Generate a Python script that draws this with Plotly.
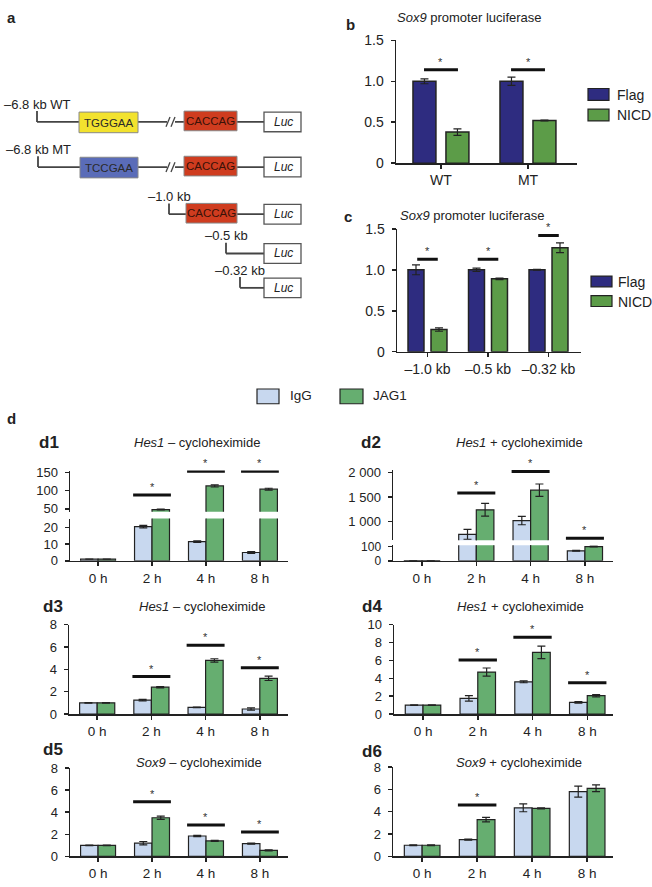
import plotly.graph_objects as go

# ---------------- data ----------------
b_categories = ["WT", "MT"]
b_flag = [1.0, 1.0]
b_flag_err = [0.03, 0.05]
b_nicd = [0.38, 0.52]
b_nicd_err = [0.04, 0.005]
b_sig = [1.14, 1.14]

c_categories = ["–1.0 kb", "–0.5 kb", "–0.32 kb"]
c_flag = [1.0, 1.0, 1.0]
c_flag_err = [0.06, 0.02, 0.005]
c_nicd = [0.27, 0.89, 1.27]
c_nicd_err = [0.02, 0.01, 0.06]
c_sig = [1.13, 1.13, 1.42]

d_times = ["0 h", "2 h", "4 h", "8 h"]

d1_igg = [1.0, 20.5, 11.5, 5.0]
d1_igg_err = [0.05, 0.8, 0.5, 0.6]
d1_jag = [1.0, 48.0, 113.0, 104.0]
d1_jag_err = [0.05, 1.0, 3.0, 2.5]
d1_sig = [None, 88, 153, 153]

d2_igg = [1.0, 740, 1020, 70]
d2_igg_err = [0, 100, 85, 3]
d2_jag = [1.0, 1240, 1640, 100]
d2_jag_err = [0, 130, 125, 3]
d2_sig = [None, 1580, 2020, 660]

d3_igg = [1.0, 1.25, 0.6, 0.45]
d3_igg_err = [0.03, 0.07, 0.03, 0.1]
d3_jag = [1.0, 2.4, 4.8, 3.2]
d3_jag_err = [0.03, 0.05, 0.15, 0.2]
d3_sig = [None, 3.35, 6.15, 4.15]

d4_igg = [1.0, 1.75, 3.6, 1.3]
d4_igg_err = [0.03, 0.3, 0.1, 0.08]
d4_jag = [1.0, 4.7, 6.9, 2.05]
d4_jag_err = [0.03, 0.45, 0.7, 0.12]
d4_sig = [None, 6.05, 8.6, 3.5]

d5_igg = [1.0, 1.2, 1.85, 1.15]
d5_igg_err = [0.03, 0.15, 0.05, 0.05]
d5_jag = [1.0, 3.5, 1.4, 0.55]
d5_jag_err = [0.03, 0.15, 0.05, 0.05]
d5_sig = [None, 4.95, 2.85, 2.2]

d6_igg = [1.0, 1.5, 4.35, 5.8]
d6_igg_err = [0.03, 0.05, 0.35, 0.5]
d6_jag = [1.0, 3.3, 4.3, 6.1]
d6_jag_err = [0.03, 0.2, 0.05, 0.3]
d6_sig = [None, 4.6, None, None]

# schematic (panel a)
a_labels = ["–6.8 kb WT", "–6.8 kb MT", "–1.0 kb", "–0.5 kb", "–0.32 kb"]
a_motifs = ["TGGGAA", "TCCGAA", "", "", ""]
a_has_caccag = [True, True, True, False, False]

# ---------------- style ----------------
W, H = 652, 887
FONT = "Liberation Sans, Arial, sans-serif"
AX = "#222222"
FLAG = "#2E2C80"
NICD = "#5C9C48"
IGG = "#C8D8EF"
JAG = "#66AE70"
TXT = "#222222"


def fx(px):
    return px / W


def fy(py):
    return 1 - py / H


fig = go.Figure()
annotations = []
shapes = []


def xaxis(x0, x1, rng, anchor, labels, fs):
    return dict(domain=[fx(x0), fx(x1)], range=rng, anchor=anchor,
                showline=True, linecolor=AX, linewidth=1.5,
                ticks="outside", ticklen=4, tickwidth=1.5, tickcolor=AX,
                tickvals=list(range(len(labels))), ticktext=labels,
                tickfont=dict(size=fs, color=TXT, family=FONT),
                showgrid=False, zeroline=False, fixedrange=True)


def yaxis(top, bottom, rng, anchor, vals, texts, fs):
    return dict(domain=[fy(bottom), fy(top)], range=rng, anchor=anchor,
                showline=True, linecolor=AX, linewidth=1.5,
                ticks="outside", ticklen=4, tickwidth=1.5, tickcolor=AX,
                tickvals=vals, ticktext=texts, ticklabelstandoff=4,
                tickfont=dict(size=fs, color=TXT, family=FONT),
                showgrid=False, zeroline=False, fixedrange=True)


def bars(vals, errs, color, offset, width, xa, ya, lw=1.2):
    fig.add_trace(go.Bar(
        x=list(range(len(vals))), y=vals, offset=offset, width=width,
        marker=dict(color=color, line=dict(color=AX, width=lw)),
        error_y=dict(type="data", array=errs, visible=True, color=AX,
                     thickness=1.2, width=4),
        xaxis=xa, yaxis=ya, showlegend=False, hoverinfo="skip"))


def sig(levels, hw, xa, ya, fs=11):
    xs, ys = [], []
    for i, s in enumerate(levels):
        if s is None:
            continue
        xs += [i - hw, i + hw, None]
        ys += [s, s, None]
        annotations.append(dict(x=i, y=s, xref=xa, yref=ya, text="*",
                                showarrow=False, xanchor="center",
                                yanchor="bottom", yshift=0,
                                font=dict(size=fs, color="#333", family=FONT)))
    fig.add_trace(go.Scatter(x=xs, y=ys, mode="lines",
                             line=dict(color="#111", width=3),
                             xaxis=xa, yaxis=ya, showlegend=False,
                             hoverinfo="skip", cliponaxis=False))


def text(x, y, s, size=13, anchor="center", bold=False, color=TXT):
    if bold:
        s = "<b>" + s + "</b>"
    annotations.append(dict(x=fx(x), y=fy(y), xref="paper", yref="paper",
                            text=s, showarrow=False, xanchor=anchor,
                            yanchor="middle",
                            font=dict(size=size, color=color, family=FONT)))


def legend_box(x0, y0, x1, y1, color):
    shapes.append(dict(type="rect", xref="paper", yref="paper",
                       x0=fx(x0), x1=fx(x1), y0=fy(y1), y1=fy(y0),
                       fillcolor=color, line=dict(color=AX, width=1.2)))


layout = {}

# ---------------- panel b ----------------
layout["xaxis"] = xaxis(396, 577, [-0.517, 1.563], "y", b_categories, 14)
layout["yaxis"] = yaxis(33, 158, [0, 1.5], "x", [0, 0.5, 1.0, 1.5],
                        ["0", "0.5", "1.0", "1.5"], 14)
bars(b_flag, b_flag_err, FLAG, -0.322, 0.264, "x", "y", 1.5)
bars(b_nicd, b_nicd_err, NICD, 0.057, 0.264, "x", "y", 1.5)
sig(b_sig, 0.195, "x", "y")
text(350, 17, "b", 15, bold=True)
text(470, 10, "<i>Sox9</i> promoter luciferase", 13)
legend_box(588, 82, 609, 94, FLAG)
legend_box(588, 103, 609, 115, NICD)
text(615, 89, "Flag", 14, "left")
text(615, 109, "NICD", 14, "left")

# ---------------- panel c ----------------
layout["xaxis2"] = xaxis(397, 581, [-0.504, 2.537], "y2", c_categories, 14)
layout["yaxis2"] = yaxis(225, 350, [0, 1.5], "x2", [0, 0.5, 1.0, 1.5],
                         ["0", "0.5", "1.0", "1.5"], 14)
bars(c_flag, c_flag_err, FLAG, -0.322, 0.264, "x2", "y2", 1.5)
bars(c_nicd, c_nicd_err, NICD, 0.058, 0.264, "x2", "y2", 1.5)
sig(c_sig, 0.17, "x2", "y2")
text(348, 212, "c", 15, bold=True)
text(472, 211, "<i>Sox9</i> promoter luciferase", 13)
legend_box(591, 273, 612, 284, FLAG)
legend_box(591, 293, 612, 304, NICD)
text(616, 279, "Flag", 14, "left")
text(616, 299, "NICD", 14, "left")

# ---------------- legend d ----------------
legend_box(257, 388, 279, 403, IGG)
legend_box(340, 388, 363, 403, JAG)
text(288, 395, "IgG", 13.5, "left")
text(371, 395, "JAG1", 13.5, "left")
text(11, 418, "d", 15, bold=True)

HW = 0.35
BW = 0.324

# ---------------- d1 (broken axis) ----------------
layout["xaxis3"] = xaxis(70, 288, [-0.52, 3.52], "y3", d_times, 13.5)
layout["yaxis3"] = yaxis(520, 563, [0, 25.3], "x3", [0, 10, 20],
                         ["0", "10", "20"], 13)
layout["yaxis4"] = yaxis(471, 513, [41.9, 155.4], "x3", [50, 100, 150],
                         ["50", "100", "150"], 13)
for ya in ["y3", "y4"]:
    bars(d1_igg, d1_igg_err, IGG, -BW, BW, "x3", ya)
    bars(d1_jag, d1_jag_err, JAG, 0, BW, "x3", ya)
sig(d1_sig, HW, "x3", "y4")
text(37, 442, "d1", 17, "left", bold=True)
text(197, 442, "<i>Hes1</i> – cycloheximide", 13)

# ---------------- d2 (broken axis) ----------------
layout["xaxis5"] = xaxis(393, 613, [-0.534, 3.517], "y5", d_times, 13.5)
layout["yaxis5"] = yaxis(547, 563, [0, 110], "x5", [0, 100],
                         ["0", "100"], 12)
layout["yaxis6"] = yaxis(470, 542, [620, 2060], "x5", [1000, 1500, 2000],
                         ["1 000", "1 500", "2 000"], 13)
for ya in ["y5", "y6"]:
    bars(d2_igg, d2_igg_err, IGG, -BW, BW, "x5", ya)
    bars(d2_jag, d2_jag_err, JAG, 0, BW, "x5", ya)
sig(d2_sig, HW, "x5", "y6")
text(359, 442, "d2", 17, "left", bold=True)
text(519, 442, "<i>Hes1</i> + cycloheximide", 13)

# ---------------- d3 ----------------
eight = [0, 2, 4, 6, 8]
layout["xaxis7"] = xaxis(69, 288, [-0.52, 3.52], "y7", d_times, 13.5)
layout["yaxis7"] = yaxis(628, 719, [0, 8], "x7", eight,
                         [str(v) for v in eight], 13)
bars(d3_igg, d3_igg_err, IGG, -BW, BW, "x7", "y7")
bars(d3_jag, d3_jag_err, JAG, 0, BW, "x7", "y7")
sig(d3_sig, HW, "x7", "y7")
text(41, 610, "d3", 17, "left", bold=True)
text(202, 610, "<i>Hes1</i> – cycloheximide", 13)

# ---------------- d4 ----------------
ten = [0, 2, 4, 6, 8, 10]
layout["xaxis8"] = xaxis(394, 613, [-0.53, 3.47], "y8", d_times, 13.5)
layout["yaxis8"] = yaxis(628, 719, [0, 10], "x8", ten,
                         [str(v) for v in ten], 13)
bars(d4_igg, d4_igg_err, IGG, -BW, BW, "x8", "y8")
bars(d4_jag, d4_jag_err, JAG, 0, BW, "x8", "y8")
sig(d4_sig, HW, "x8", "y8")
text(360, 610, "d4", 17, "left", bold=True)
text(520, 610, "<i>Hes1</i> + cycloheximide", 13)

# ---------------- d5 ----------------
layout["xaxis9"] = xaxis(70, 288, [-0.52, 3.52], "y9", d_times, 13.5)
layout["yaxis9"] = yaxis(774, 864, [0, 8], "x9", eight,
                         [str(v) for v in eight], 13)
bars(d5_igg, d5_igg_err, IGG, -BW, BW, "x9", "y9")
bars(d5_jag, d5_jag_err, JAG, 0, BW, "x9", "y9")
sig(d5_sig, HW, "x9", "y9")
text(41, 755, "d5", 17, "left", bold=True)
text(199, 768, "<i>Sox9</i> – cycloheximide", 13)

# ---------------- d6 ----------------
layout["xaxis10"] = xaxis(393, 613, [-0.53, 3.47], "y10", d_times, 13.5)
layout["yaxis10"] = yaxis(773, 864, [0, 8], "x10", eight,
                          [str(v) for v in eight], 13)
bars(d6_igg, d6_igg_err, IGG, -BW, BW, "x10", "y10")
bars(d6_jag, d6_jag_err, JAG, 0, BW, "x10", "y10")
sig(d6_sig, HW, "x10", "y10")
text(360, 757, "d6", 17, "left", bold=True)
text(519, 768, "<i>Sox9</i> + cycloheximide", 13)

# ---------------- panel a (schematic) ----------------
layout["xaxis11"] = dict(domain=[0, fx(330)], range=[0, 330], visible=False,
                         anchor="y11", fixedrange=True)
layout["yaxis11"] = dict(domain=[fy(330), 1], range=[330, 0], visible=False,
                         anchor="x11", fixedrange=True)
fig.add_trace(go.Scatter(x=[0], y=[0], mode="markers", marker=dict(opacity=0),
                         xaxis="x11", yaxis="y11", showlegend=False,
                         hoverinfo="skip"))
text(11, 10, "a", 15, bold=True)

row_y = [116, 162, 210, 250, 285]
start_x = [37, 38, 169, 226, 240]
motif_colors = ["#F2E22E", "#5A6CB8"]
LUC_X0, LUC_X1 = 264, 301
LINE = "#444444"


def ashape(**kw):
    kw.update(xref="x11", yref="y11")
    shapes.append(kw)


def atext(x, y, s, size=12, color=TXT):
    annotations.append(dict(x=x, y=y, xref="x11", yref="y11", text=s,
                            showarrow=False, xanchor="center",
                            yanchor="middle",
                            font=dict(size=size, color=color, family=FONT)))


for i, lab in enumerate(a_labels):
    yc = row_y[i]
    sx = start_x[i]
    ashape(type="line", x0=sx, x1=sx, y0=yc - 11, y1=yc,
           line=dict(color=LINE, width=1.8))
    ashape(type="line", x0=sx, x1=LUC_X0, y0=yc, y1=yc,
           line=dict(color=LINE, width=1.8))
    atext(sx, yc - 18, lab, 13)
    if a_motifs[i]:
        ashape(type="rect", x0=167, x1=175, y0=yc - 3, y1=yc + 3,
               fillcolor="white", line=dict(width=0))
        for bx in (166, 171):
            ashape(type="line", x0=bx, x1=bx + 4, y0=yc + 5, y1=yc - 5,
                   line=dict(color=LINE, width=1.3))
        mx0 = 79 if i == 0 else 80
        ashape(type="rect", x0=mx0, x1=138, y0=yc - 10, y1=yc + 11,
               fillcolor=motif_colors[i], line=dict(color="#888", width=1))
        atext((mx0 + 138) / 2, yc + 1, a_motifs[i], 11.5, "#2a2a2a")
    if a_has_caccag[i]:
        rx0 = 184 if a_motifs[i] else 186
        ashape(type="rect", x0=rx0, x1=237, y0=yc - 11, y1=yc + 9,
               fillcolor="#CF3C1F", line=dict(color="#888", width=1))
        atext((rx0 + 237) / 2, yc - 1, "CACCAG", 11.5, "#3a1208")
    ashape(type="rect", x0=LUC_X0, x1=LUC_X1, y0=yc - 10, y1=yc + 10,
           fillcolor="white", line=dict(color="#555", width=1.3))
    atext((LUC_X0 + LUC_X1) / 2 + 1, yc, "<i>Luc</i>", 12)

fig.update_layout(
    width=W, height=H, margin=dict(l=0, r=0, t=0, b=0),
    paper_bgcolor="white", plot_bgcolor="white", barmode="overlay",
    font=dict(family=FONT, color=TXT), showlegend=False,
    annotations=annotations, shapes=shapes, **layout)

fig.write_html("out.html",
               config={"displayModeBar": False, "staticPlot": True},
               post_script="document.body.style.margin='0px';"
                           "document.body.style.overflow='hidden';")
